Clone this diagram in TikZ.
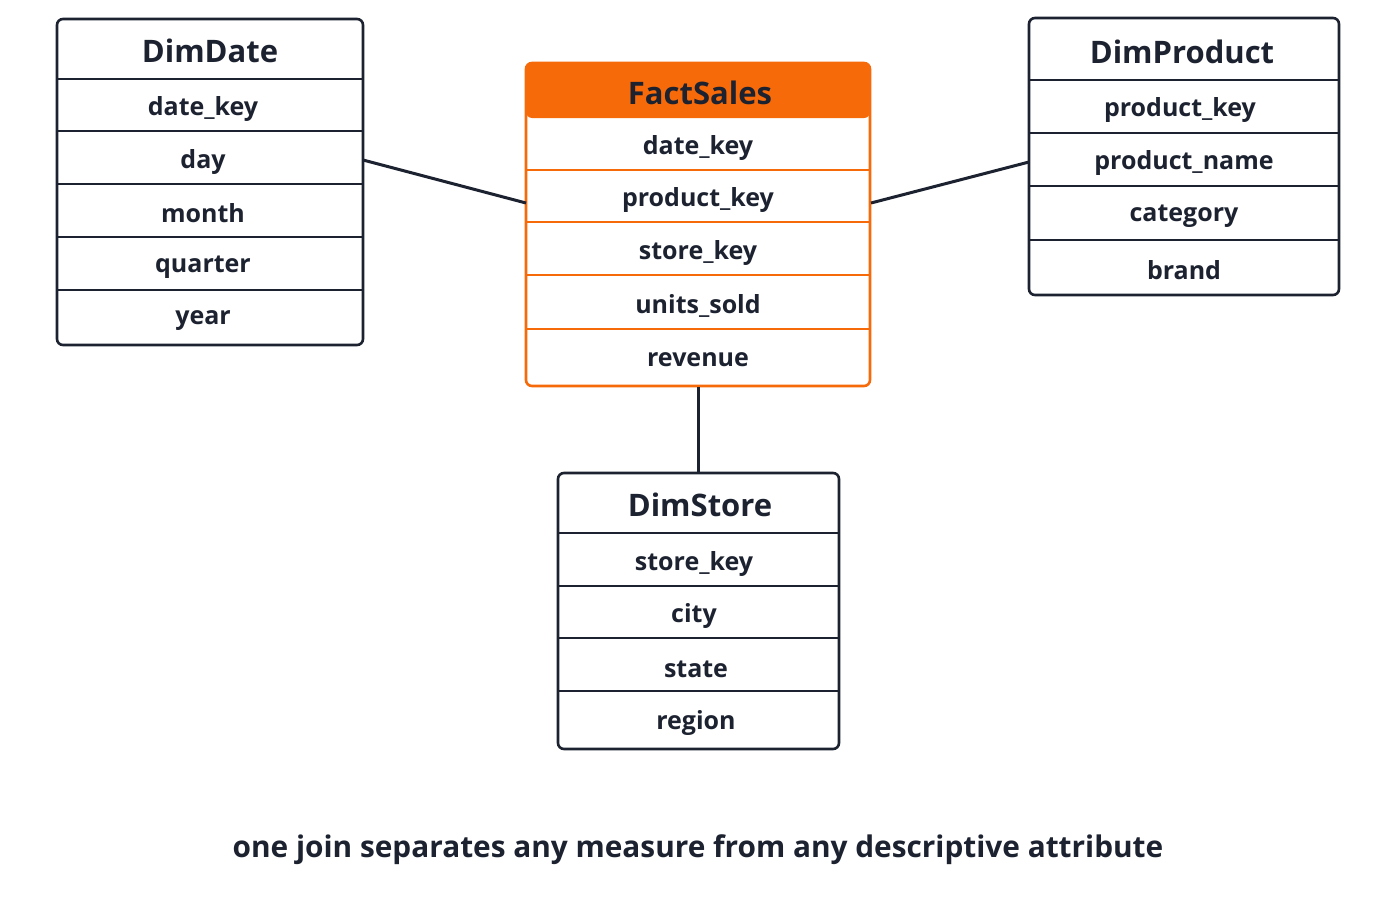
\documentclass[tikz,border=0pt]{standalone}
\usepackage{fontspec}
\setmainfont{Open Sans}
\definecolor{ink}{HTML}{1C2230}
\definecolor{fact}{HTML}{F66A0A}
\begin{document}
\begin{tikzpicture}[x=1pt,y=-1pt,
  hdr/.style={font=\fontsize{31}{31}\selectfont\bfseries,text=ink},
  row/.style={font=\fontsize{25}{25}\selectfont\bfseries,text=ink},
  box/.style={draw=ink,line width=2.6pt,rounded corners=6pt},
  sep/.style={draw=ink,line width=2.6pt},
  conn/.style={draw=ink,line width=3pt}]
\useasboundingbox[fill=white] (0,0) rectangle (1400,900);
% DimDate
\draw[box] (57,19) rectangle (363,345);
\coordinate (dateR) at (363,160);
\node[hdr] (dd) at (210,51) {DimDate};
\foreach \y in {79,131,184,237,290} \draw[sep] (57,\y) -- (363,\y);
\node[row] (dd1) at (203,109) {date\_key};
\node[row] (dd2) at (203,162) {day};
\node[row] (dd3) at (203,213) {month};
\node[row] (dd4) at (203,267) {quarter};
\node[row] (dd5) at (203,321) {year};
% FactSales
\fill[fact,rounded corners=6pt] (526,63) rectangle (870,118);
\draw[draw=fact,line width=2.6pt,rounded corners=6pt] (526,63) rectangle (870,386);
\node[hdr] (fs) at (700,93) {FactSales};
\foreach \y in {170,222,275,329} \draw[draw=fact,line width=2.6pt] (526,\y) -- (870,\y);
\node[row] (fs1) at (698,148) {date\_key};
\node[row] (fs2) at (698,200) {product\_key};
\node[row] (fs3) at (698,253) {store\_key};
\node[row] (fs4) at (698,306) {units\_sold};
\node[row] (fs5) at (698,360) {revenue};
\coordinate (factL) at (526,203);
\coordinate (factR) at (871,203);
\coordinate (factB) at (698,387);
% DimProduct
\draw[box] (1029,18) rectangle (1339,295);
\node[hdr] (dp) at (1182,52) {DimProduct};
\foreach \y in {80,133,186,240} \draw[sep] (1029,\y) -- (1339,\y);
\node[row] (dp1) at (1180,110) {product\_key};
\node[row] (dp2) at (1184,163) {product\_name};
\node[row] (dp3) at (1184,216) {category};
\node[row] (dp4) at (1184,270) {brand};
\coordinate (prodL) at (1029,162);
% DimStore
\draw[box] (558,473) rectangle (839,749);
\node[hdr] (ds) at (700,505) {DimStore};
\foreach \y in {533,586,638,691} \draw[sep] (558,\y) -- (839,\y);
\node[row] (ds1) at (694,564) {store\_key};
\node[row] (ds2) at (694,616) {city};
\node[row] (ds3) at (696,669) {state};
\node[row] (ds4) at (696,723) {region};
\coordinate (storeT) at (698,473);
% connectors
\draw[conn] (dateR) -- (factL);
\draw[conn] (factR) -- (prodL);
\draw[conn] (factB) -- (storeT);
\node[row,font=\fontsize{29.8}{30}\selectfont\bfseries] (cap) at (698,850) {one join separates any measure from any descriptive attribute};
\end{tikzpicture}
\end{document}
